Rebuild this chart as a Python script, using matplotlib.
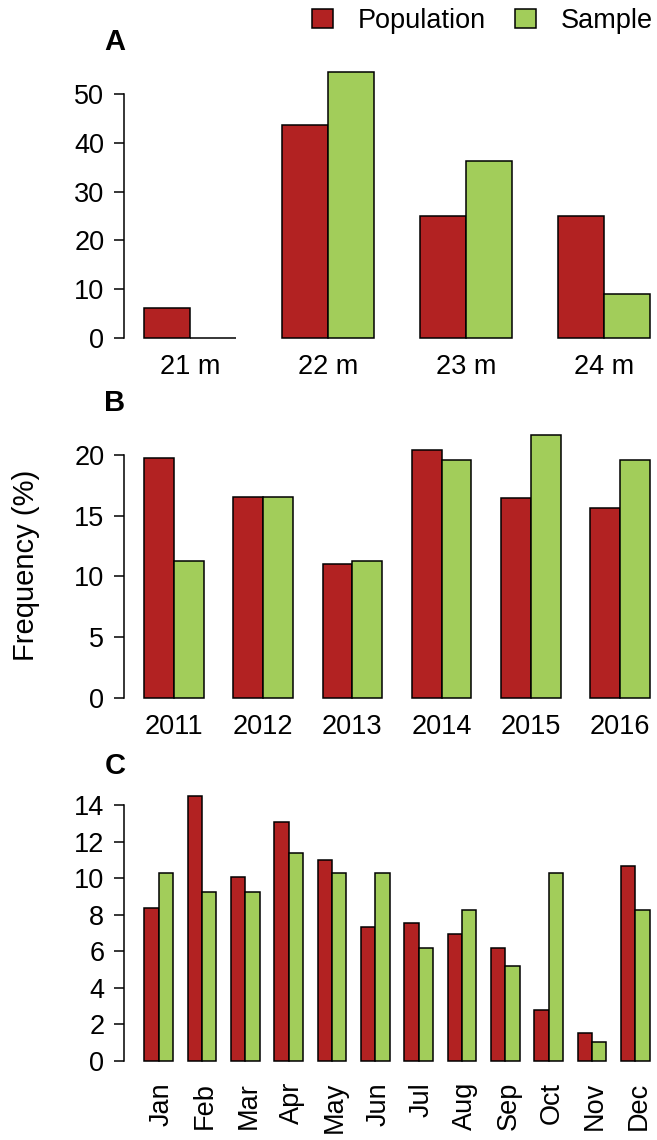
import matplotlib
matplotlib.use("Agg")
import matplotlib.pyplot as plt
import matplotlib.transforms as mtransforms
from matplotlib.patches import Patch
import numpy as np

plt.rcParams['font.family'] = ['Liberation Sans', 'DejaVu Sans']

# ---- data (frequency, %) ----
depth_labels = ['21 m', '22 m', '23 m', '24 m']
depth_pop = [6.2, 43.7, 25.1, 25.1]
depth_sample = [0.0, 54.7, 36.4, 9.0]

year_labels = ['2011', '2012', '2013', '2014', '2015', '2016']
year_pop = [19.7, 16.5, 11.0, 20.4, 16.4, 15.65]
year_sample = [11.3, 16.5, 11.3, 19.6, 21.6, 19.6]

month_labels = ['Jan', 'Feb', 'Mar', 'Apr', 'May', 'Jun',
                'Jul', 'Aug', 'Sep', 'Oct', 'Nov', 'Dec']
month_pop = [8.4, 14.5, 10.1, 13.1, 11.0, 7.34, 7.54, 6.97, 6.17, 2.8, 1.53, 10.7]
month_sample = [10.3, 9.27, 9.27, 11.4, 10.3, 10.3, 6.17, 8.28, 5.2, 10.3, 1.06, 8.28]

yticks_a = [0, 10, 20, 30, 40, 50]
yticks_b = [0, 5, 10, 15, 20]
yticks_c = [0, 2, 4, 6, 8, 10, 12, 14]

col_pop = '#B22222'     # firebrick
col_sample = '#A2CD5A'  # darkolivegreen3

W, H = 657, 1140
fig = plt.figure(figsize=(W / 100, H / 100), dpi=100)
fs = 19.5


def add_ax(x0, y0, x1, y1):
    # pixel box (top-left origin) -> figure fraction
    return fig.add_axes([x0 / W, 1 - y1 / H, (x1 - x0) / W, (y1 - y0) / H])


def panel(ax, labels, pop, sample, yticks, rotate=False):
    n = len(labels)
    left = np.arange(n) * 3 + 1
    ax.bar(left, pop, width=1, align='edge', color=col_pop,
           edgecolor='black', linewidth=1.1)
    ax.bar(left + 1, sample, width=1, align='edge', color=col_sample,
           edgecolor='black', linewidth=1.1)
    span = 3 * n - 1
    ax.set_xlim(1 - 0.04 * span, 3 * n + 0.04 * span)
    ymax = max(max(pop), max(sample))
    ax.set_ylim(-0.04 * ymax, 1.04 * ymax)
    for s in ['top', 'right', 'bottom']:
        ax.spines[s].set_visible(False)
    ax.spines['left'].set_bounds(yticks[0], yticks[-1])
    ax.spines['left'].set_linewidth(1.1)
    ax.set_yticks(yticks)
    ax.tick_params(axis='y', length=7.2, width=1.1, pad=7, labelsize=fs)
    ax.set_xticks(left + 1)
    if rotate:
        ax.set_xticklabels(labels, rotation=90)
        ax.tick_params(axis='x', length=0, pad=7.5, labelsize=fs)
        off = mtransforms.ScaledTranslation(3 / 100, 0, fig.dpi_scale_trans)
        for lab in ax.get_xticklabels():
            lab.set_transform(lab.get_transform() + off)
    else:
        ax.set_xticklabels(labels)
        ax.tick_params(axis='x', length=0, pad=4, labelsize=fs)
    ax.patch.set_visible(False)


ax_a = add_ax(124, 61, 670, 348.3)
panel(ax_a, depth_labels, depth_pop, depth_sample, yticks_a)

ax_b = add_ax(124, 424.7, 670, 708.5)
panel(ax_b, year_labels, year_pop, year_sample, yticks_b)

ax_c = add_ax(124, 785.6, 670, 1071.6)
panel(ax_c, month_labels, month_pop, month_sample, yticks_c, rotate=True)

# panel letters
for letter, yp in [('A', 42.5), ('B', 403.5), ('C', 766)]:
    fig.text(115 / W, 1 - yp / H, letter, fontsize=21, fontweight='bold',
             ha='center', va='center')

fig.text(26 / W, 1 - 565 / H, 'Frequency (%)', fontsize=21, rotation=90,
         ha='center', va='center')

handles = [Patch(facecolor=col_pop, edgecolor='black', linewidth=1.1),
           Patch(facecolor=col_sample, edgecolor='black', linewidth=1.1)]
fig.legend(handles, ['Population', 'Sample'], ncol=2, frameon=False,
           fontsize=fs, handlelength=0.78, handleheight=0.7,
           handletextpad=0.92, columnspacing=1.07, borderpad=0,
           borderaxespad=0, loc='center left',
           bbox_to_anchor=(312 / W, 1 - 21 / H))

fig.savefig('out.png', dpi=100)
